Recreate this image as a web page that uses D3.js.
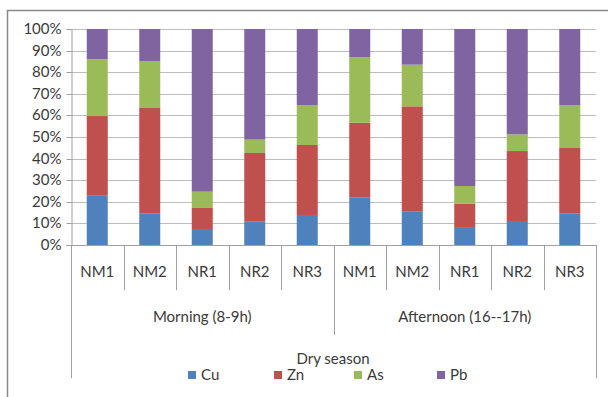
<!DOCTYPE html>
<html>
<head>
<meta charset="utf-8">
<script src="https://cdn.jsdelivr.net/npm/d3@7"></script>
<style>
  html, body { margin: 0; padding: 0; background: #fff; }
  svg { display: block; font-family: Lato, "Open Sans", sans-serif; }
</style>
</head>
<body>
<svg id="chart" width="608" height="397"></svg>
<script>
// Sampling sites within each period
const sites = ["NM1", "NM2", "NR1", "NR2", "NR3"];
const periods = ["Morning (8-9h)", "Afternoon (16--17h)"];

// Share of each metal (%) per site, morning sites first, then afternoon
const cu = [22.8, 14.7, 7.4, 10.8, 13.9, 21.9, 15.4, 8.3, 11.1, 14.5];
const zn = [36.9, 49.0, 10.0, 31.8, 32.4, 34.7, 48.8, 10.8, 32.4, 30.7];
const as = [26.3, 21.5, 7.3, 6.2, 18.5, 30.4, 19.3, 8.2, 7.7, 19.6];
const pb = [14.0, 14.8, 75.3, 51.2, 35.2, 13.0, 16.5, 72.7, 48.8, 35.2];

const metals = ["Cu", "Zn", "As", "Pb"];
const colors = ["#4F81BD", "#C0504D", "#9BBB59", "#8064A2"];
const yTicks = [0, 0.1, 0.2, 0.3, 0.4, 0.5, 0.6, 0.7, 0.8, 0.9, 1];
const axisTitle = "Dry season";

const rows = [];
periods.forEach((p, pi) => sites.forEach((s, si) => {
  const i = pi * sites.length + si;
  rows.push({ key: p + "|" + s, site: s, period: p, Cu: cu[i], Zn: zn[i], As: as[i], Pb: pb[i] });
}));

const svg = d3.select("#chart");
const plotL = 71, plotR = 596, plotT = 29, plotB = 245;
const fs = 15, textColor = "#3a3a3a";

const x = d3.scaleBand().domain(rows.map(r => r.key)).range([plotL, plotR]).padding(0);
const y = d3.scaleLinear().domain([0, 1]).range([plotB, plotT]);
const color = d3.scaleOrdinal().domain(metals).range(colors);

// outer frame
svg.append("path")
  .attr("d", "M7.5,397 V10.5 H608")
  .attr("fill", "none").attr("stroke", "#8a8a8a").attr("stroke-width", 1.5);

// horizontal gridlines
svg.append("g").selectAll("line").data(yTicks.slice(1)).join("line")
  .attr("x1", plotL).attr("x2", plotR)
  .attr("y1", d => Math.round(y(d)) + 0.5).attr("y2", d => Math.round(y(d)) + 0.5)
  .attr("stroke", "#bdbdbd");

// y axis with percent labels
const yAxis = svg.append("g").attr("transform", `translate(${plotL + 0.5},0)`)
  .call(d3.axisLeft(y).tickValues(yTicks).tickFormat(d3.format(".0%")).tickSize(5).tickPadding(5));
yAxis.select(".domain").attr("stroke", "#a0a0a0");
yAxis.selectAll(".tick line").attr("stroke", "#a0a0a0");
yAxis.selectAll(".tick text").attr("font-size", fs).attr("fill", textColor).attr("font-family", "Lato, sans-serif");
yAxis.selectAll(".tick").attr("transform", d => `translate(0,${Math.round(y(d)) + 0.5})`);

// stacked 100% bars
const stack = d3.stack().keys(metals).offset(d3.stackOffsetExpand);
const series = stack(rows);
const bw = x.step() * 0.4;
svg.append("g").selectAll("g").data(series).join("g")
  .attr("fill", d => color(d.key))
  .selectAll("rect").data(d => d).join("rect")
  .attr("x", d => x(d.data.key) + (x.step() - bw) / 2)
  .attr("width", bw)
  .attr("y", d => y(d[1]))
  .attr("height", d => y(d[0]) - y(d[1]));

// category axis: baseline, separators and labels
const cat = svg.append("g").attr("stroke", "#a0a0a0");
cat.append("line").attr("x1", plotL - 5).attr("x2", plotR).attr("y1", plotB + 0.5).attr("y2", plotB + 0.5);
rows.forEach((r, i) => {
  if (i % sites.length === 0) return;
  const xx = Math.round(x(r.key)) + 0.5;
  cat.append("line").attr("x1", xx).attr("x2", xx).attr("y1", plotB).attr("y2", 290);
});
// period separators
const edges = [plotL, x(rows[sites.length].key), plotR];
edges.forEach((e, i) => {
  const xx = Math.round(e) + 0.5;
  cat.append("line").attr("x1", xx).attr("x2", xx).attr("y1", plotB)
    .attr("y2", i === 1 ? 335 : 378);
});

svg.append("g").selectAll("text").data(rows).join("text")
  .attr("x", d => x(d.key) + x.step() / 2).attr("y", 277)
  .attr("text-anchor", "middle").attr("font-size", fs).attr("fill", textColor)
  .text(d => d.site);

svg.append("g").selectAll("text").data(periods).join("text")
  .attr("x", (d, i) => (edges[i] + edges[i + 1]) / 2).attr("y", 322)
  .attr("text-anchor", "middle").attr("font-size", fs).attr("fill", textColor)
  .text(d => d);

svg.append("text").attr("x", 333).attr("y", 364)
  .attr("text-anchor", "middle").attr("font-size", fs).attr("fill", textColor)
  .text(axisTitle);

// legend
const legendX = [188, 274, 354, 437];
const lg = svg.append("g").selectAll("g").data(metals).join("g")
  .attr("transform", (d, i) => `translate(${legendX[i]},371)`);
lg.append("rect").attr("width", 8).attr("height", 8).attr("fill", d => color(d));
lg.append("text").attr("x", 13).attr("y", 9).attr("font-size", fs).attr("fill", textColor).text(d => d);
</script>
</body>
</html>
